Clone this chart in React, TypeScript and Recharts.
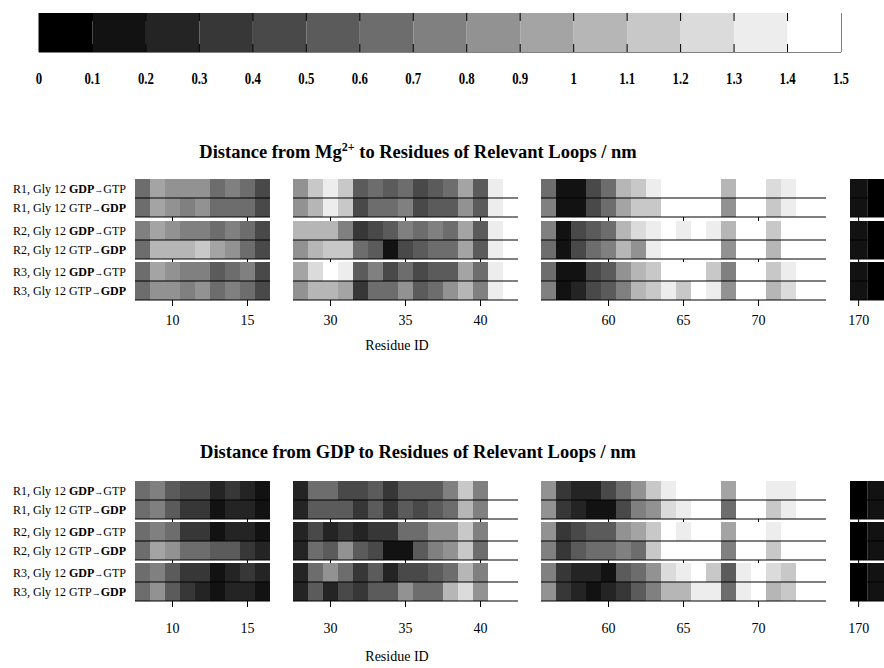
import React from 'react';
import { BarChart, Bar, XAxis, YAxis, Cell, ReferenceLine, ReferenceArea } from 'recharts';

// residues shown in each broken-axis segment
const residuesA = [8, 9, 10, 11, 12, 13, 14, 15, 16];
const residuesB = [28, 29, 30, 31, 32, 33, 34, 35, 36, 37, 38, 39, 40, 41, 42];
const residuesC = [56, 57, 58, 59, 60, 61, 62, 63, 64, 65, 66, 67, 68, 69, 70, 71, 72, 73, 74];
const residuesD = [170, 171];

const ticksA = [10, 15];
const ticksB = [30, 35, 40];
const ticksC = [60, 65, 70];
const ticksD = [170];

const replicas = ['R1', 'R2', 'R3'];

const colorbarTicks = [0, 0.1, 0.2, 0.3, 0.4, 0.5, 0.6, 0.7, 0.8, 0.9, 1, 1.1, 1.2, 1.3, 1.4, 1.5];
const colorbarBins = [0.05, 0.15, 0.25, 0.35, 0.45, 0.55, 0.65, 0.75, 0.85, 0.95, 1.05, 1.15, 1.25, 1.35, 1.45];

// distance from Mg2+ (nm), rows: R1 GDP->GTP, R1 GTP->GDP, R2 ..., R3 ...
const mgA = [
  [0.65, 0.95, 0.85, 0.85, 0.85, 0.65, 0.75, 0.65, 0.45],
  [0.65, 0.95, 0.85, 0.75, 0.85, 0.65, 0.65, 0.65, 0.45],
  [0.75, 0.95, 0.85, 0.75, 0.75, 0.65, 0.75, 0.65, 0.45],
  [0.65, 1.05, 1.05, 1.05, 1.15, 0.95, 0.85, 0.65, 0.45],
  [0.65, 0.95, 0.85, 0.75, 0.75, 0.55, 0.65, 0.75, 0.45],
  [0.65, 0.85, 0.85, 0.75, 0.85, 0.65, 0.75, 0.65, 0.45],
];
const mgB = [
  [0.85, 1.15, 1.35, 1.15, 0.55, 0.65, 0.55, 0.65, 0.45, 0.55, 0.65, 0.95, 0.55, 1.35, 1.45],
  [0.85, 1.05, 1.35, 1.15, 0.45, 0.65, 0.65, 0.75, 0.45, 0.55, 0.55, 0.85, 0.55, 1.35, 1.45],
  [1.05, 1.05, 1.05, 0.75, 0.35, 0.45, 0.55, 0.75, 0.65, 0.75, 0.65, 0.95, 0.55, 1.35, 1.45],
  [0.85, 1.05, 1.15, 1.15, 0.65, 0.55, 0.15, 0.45, 0.55, 0.65, 0.65, 0.95, 0.55, 1.35, 1.45],
  [0.95, 1.25, 1.45, 1.35, 0.55, 0.75, 0.45, 0.65, 0.45, 0.55, 0.55, 0.95, 0.65, 1.35, 1.45],
  [0.85, 1.05, 1.05, 0.95, 0.35, 0.65, 0.65, 0.85, 0.55, 0.65, 0.85, 1.05, 0.75, 1.35, 1.45],
];
const mgC = [
  [0.65, 0.15, 0.15, 0.45, 0.65, 1.05, 1.15, 1.35, 1.45, 1.45, 1.45, 1.45, 1.05, 1.45, 1.45, 1.25, 1.35, 1.45, 1.45],
  [0.75, 0.15, 0.15, 0.45, 0.65, 0.95, 1.15, 1.15, 1.45, 1.45, 1.45, 1.45, 0.85, 1.45, 1.45, 1.15, 1.35, 1.45, 1.45],
  [0.75, 0.15, 0.45, 0.55, 0.65, 1.05, 1.25, 1.35, 1.45, 1.35, 1.45, 1.35, 1.05, 1.45, 1.45, 1.15, 1.45, 1.45, 1.45],
  [0.65, 0.15, 0.45, 0.65, 0.75, 1.05, 0.85, 1.35, 1.45, 1.45, 1.45, 1.45, 0.85, 1.45, 1.45, 1.05, 1.45, 1.45, 1.45],
  [0.65, 0.15, 0.15, 0.45, 0.55, 0.85, 1.05, 1.15, 1.45, 1.45, 1.45, 1.15, 0.75, 1.45, 1.45, 1.15, 1.35, 1.45, 1.45],
  [0.75, 0.15, 0.25, 0.45, 0.55, 0.75, 1.05, 1.15, 1.35, 1.15, 1.45, 1.35, 0.85, 1.45, 1.45, 1.05, 1.25, 1.45, 1.45],
];
const mgD = [
  [0.15, 0.05],
  [0.15, 0.05],
  [0.15, 0.05],
  [0.15, 0.05],
  [0.15, 0.05],
  [0.15, 0.05],
];

// distance from GDP (nm)
const gdpA = [
  [0.65, 0.75, 0.55, 0.45, 0.45, 0.25, 0.35, 0.25, 0.15],
  [0.65, 0.75, 0.55, 0.35, 0.35, 0.15, 0.25, 0.25, 0.15],
  [0.65, 0.75, 0.65, 0.35, 0.35, 0.15, 0.25, 0.25, 0.15],
  [0.65, 0.95, 0.85, 0.65, 0.65, 0.55, 0.55, 0.35, 0.25],
  [0.65, 0.75, 0.55, 0.35, 0.35, 0.15, 0.25, 0.35, 0.25],
  [0.65, 0.85, 0.55, 0.35, 0.25, 0.15, 0.25, 0.25, 0.15],
];
const gdpB = [
  [0.25, 0.65, 0.65, 0.45, 0.45, 0.55, 0.35, 0.55, 0.55, 0.55, 0.75, 1.15, 0.75, 1.45, 1.45],
  [0.25, 0.55, 0.55, 0.55, 0.35, 0.55, 0.35, 0.55, 0.45, 0.55, 0.65, 1.05, 0.75, 1.45, 1.45],
  [0.25, 0.45, 0.25, 0.35, 0.25, 0.35, 0.35, 0.65, 0.65, 0.85, 0.85, 1.15, 0.75, 1.45, 1.45],
  [0.25, 0.65, 0.55, 0.85, 0.55, 0.45, 0.15, 0.15, 0.55, 0.75, 0.85, 1.15, 0.65, 1.45, 1.45],
  [0.25, 0.65, 0.85, 0.65, 0.35, 0.55, 0.25, 0.45, 0.45, 0.55, 0.65, 1.05, 0.75, 1.45, 1.45],
  [0.25, 0.55, 0.25, 0.45, 0.35, 0.55, 0.55, 0.85, 0.65, 0.65, 1.05, 1.25, 0.85, 1.45, 1.45],
];
const gdpC = [
  [0.85, 0.35, 0.25, 0.25, 0.45, 0.65, 0.85, 1.15, 1.35, 1.45, 1.45, 1.45, 0.95, 1.45, 1.45, 1.35, 1.35, 1.45, 1.45],
  [0.85, 0.35, 0.25, 0.15, 0.15, 0.45, 0.75, 0.85, 1.25, 1.35, 1.45, 1.45, 0.65, 1.45, 1.45, 1.15, 1.35, 1.45, 1.45],
  [0.85, 0.35, 0.45, 0.55, 0.55, 0.85, 0.95, 1.15, 1.45, 1.35, 1.45, 1.45, 0.95, 1.45, 1.45, 1.35, 1.45, 1.45, 1.45],
  [0.75, 0.35, 0.55, 0.65, 0.65, 0.75, 0.65, 1.15, 1.45, 1.45, 1.45, 1.45, 0.75, 1.45, 1.45, 1.15, 1.45, 1.45, 1.45],
  [0.75, 0.35, 0.25, 0.25, 0.15, 0.55, 0.65, 0.85, 1.25, 1.35, 1.45, 1.15, 0.55, 1.35, 1.45, 1.25, 1.15, 1.45, 1.45],
  [0.85, 0.35, 0.25, 0.15, 0.25, 0.35, 0.55, 0.75, 1.05, 1.05, 1.35, 1.35, 0.65, 1.35, 1.45, 1.05, 1.15, 1.45, 1.45],
];
const gdpD = [
  [0.05, 0.15],
  [0.05, 0.15],
  [0.05, 0.15],
  [0.05, 0.15],
  [0.05, 0.15],
  [0.05, 0.15],
];

const SERIF = '"Liberation Serif", "Times New Roman", serif';
const GROUP_H = 38;
const AXIS_H = 40;

const shade = (v: number) => {
  const level = Math.min(14, Math.max(0, Math.floor(v * 10 + 1e-6)));
  const g = Math.round((level * 255) / 14);
  return `rgb(${g},${g},${g})`;
};

// each cell is one unit tall; the two rows of a pair are stacked
const lowerSpan = (d: { lower?: number }) => (d.lower != null ? 1 : 0);
const upperSpan = (d: { upper?: number }) => (d.upper != null ? 1 : 0);
const binSpan = (d: { v?: number }) => (d.v != null ? 1 : 0);

// tick={false} drops the tick marks too, so blank labels go through this
const NoLabel = () => <g />;

const segments = [
  { residues: residuesA, ticks: ticksA, x: 135, cell: 15, right: true },
  { residues: residuesB, ticks: ticksB, x: 293, cell: 15, right: true },
  { residues: residuesC, ticks: ticksC, x: 541, cell: 15, right: true },
  { residues: residuesD, ticks: ticksD, x: 849.5, cell: 17.25, right: false },
];

const panels = [
  { key: 'mg', data: [mgA, mgB, mgC, mgD], tops: [179, 221, 262], titleY: 158, labelY: 350, tickGap: 9 },
  { key: 'gdp', data: [gdpA, gdpB, gdpC, gdpD], tops: [481, 522, 563], titleY: 458, labelY: 661, tickGap: 16 },
];

type Seg = (typeof segments)[number];

function GroupChart({ seg, upper, lower, top, showLabels, tickGap }: { seg: Seg; upper: number[]; lower: number[]; top: number; showLabels: boolean; tickGap: number }) {
  const data = seg.residues.map((res, i) => ({ res, upper: upper[i], lower: lower[i] }));
  const n = seg.residues.length;
  const width = n * seg.cell;
  // a hair under the band so recharts keeps the full size (it shrinks bars that fill the band)
  const barSize = seg.cell - 0.01;
  return (
    <div style={{ position: 'absolute', left: seg.x - 1, top }}>
      <BarChart
        width={width + 2}
        height={GROUP_H + AXIS_H}
        data={data}
        margin={{ top: 0, right: 1, bottom: 0, left: 1 }}
        barGap={0}
      >
        <XAxis
          dataKey="res"
          type="number"
          domain={[seg.residues[0] - 0.5, seg.residues[n - 1] + 0.5]}
          ticks={seg.ticks}
          interval={0}
          allowDataOverflow
          height={AXIS_H}
          tickSize={6}
          tickMargin={tickGap}
          stroke="#000"
          tick={showLabels ? { fill: '#000', fontSize: 14, fontFamily: SERIF } : NoLabel}
        />
        <YAxis yAxisId="l" type="number" domain={[0, 2]} width={0} tick={false} tickLine={false} stroke="#000" />
        {seg.right && (
          <YAxis yAxisId="r" orientation="right" type="number" domain={[0, 2]} width={0} tick={false} tickLine={false} stroke="#000" />
        )}
        <Bar yAxisId="l" dataKey={lowerSpan} stackId="pair" barSize={barSize} isAnimationActive={false}>
          {data.map((d, i) => (
            <Cell key={`lo-${i}`} fill={shade(d.lower)} />
          ))}
        </Bar>
        <Bar yAxisId="l" dataKey={upperSpan} stackId="pair" barSize={barSize} isAnimationActive={false}>
          {data.map((d, i) => (
            <Cell key={`up-${i}`} fill={shade(d.upper)} />
          ))}
        </Bar>
        <ReferenceLine yAxisId="l" y={1} stroke="#000" strokeWidth={1} />
      </BarChart>
    </div>
  );
}

const CondensedTick = ({ x, y, payload }: { x?: number; y?: number; payload?: { value: number } }) => (
  <text
    transform={`translate(${x},${y}) scale(0.8,1)`}
    textAnchor="middle"
    dy="0.71em"
    fontSize={16}
    fontWeight="bold"
    fontFamily={SERIF}
    fill="#000"
  >
    {payload?.value}
  </text>
);

function Colorbar() {
  const data = colorbarBins.map((v) => ({ v }));
  const inner = colorbarTicks.slice(1, -1);
  return (
    <div style={{ position: 'absolute', left: 27, top: 13 }}>
      <BarChart width={826} height={82} data={data} margin={{ top: 0, right: 12, bottom: 0, left: 12 }} barGap={0}>
        <XAxis
          dataKey="v"
          type="number"
          domain={[0, 1.5]}
          allowDataOverflow
          ticks={colorbarTicks}
          interval={0}
          height={43}
          axisLine={false}
          tickLine={false}
          tickSize={0}
          tickMargin={21}
          tick={<CondensedTick />}
        />
        <XAxis xAxisId="topIn" dataKey="v" orientation="top" mirror type="number" domain={[0, 1.5]} allowDataOverflow ticks={inner} interval={0} tick={NoLabel} axisLine={false} tickSize={8} stroke="#000" />
        <XAxis xAxisId="botIn" dataKey="v" orientation="bottom" mirror type="number" domain={[0, 1.5]} allowDataOverflow ticks={inner} interval={0} tick={NoLabel} axisLine={false} tickSize={8} stroke="#000" />
        <YAxis hide type="number" domain={[0, 1]} />
        <Bar dataKey={binSpan} barSize={802 / 15 - 0.01} isAnimationActive={false}>
          {data.map((d, i) => (
            <Cell key={`cb-${i}`} fill={shade(d.v)} />
          ))}
        </Bar>
        <ReferenceArea x1={0} x2={1.5} y1={0} y2={1} fill="none" fillOpacity={0} stroke="#000" strokeWidth={1} />
      </BarChart>
    </div>
  );
}

function RowLabel({ y, replica, firstBold }: { y: number; replica: string; firstBold: boolean }) {
  return (
    <text x={126} y={y} textAnchor="end" fontFamily={SERIF} fontSize={12} fill="#000">
      {`${replica}, Gly 12 `}
      <tspan fontWeight={firstBold ? 'bold' : 'normal'}>{firstBold ? 'GDP' : 'GTP'}</tspan>
      <tspan fontSize={9}>{'\u2192'}</tspan>
      <tspan fontWeight={firstBold ? 'normal' : 'bold'}>{firstBold ? 'GTP' : 'GDP'}</tspan>
    </text>
  );
}

export default function App() {
  return (
    <div style={{ position: 'absolute', left: 0, top: 0, width: 884, height: 668, background: '#fff', overflow: 'hidden' }}>
      <Colorbar />
      {panels.map((p) =>
        segments.map((seg, s) =>
          p.tops.map((top, g) => (
            <GroupChart
              key={`${p.key}-${s}-${g}`}
              seg={seg}
              upper={p.data[s][g * 2]}
              lower={p.data[s][g * 2 + 1]}
              top={top}
              showLabels={g === p.tops.length - 1}
              tickGap={p.tickGap}
            />
          ))
        )
      )}
      <svg width={884} height={668} style={{ position: 'absolute', left: 0, top: 0, pointerEvents: 'none' }}>
        <text x={418} y={panels[0].titleY} textAnchor="middle" fontFamily={SERIF} fontSize={18.5} fontWeight="bold" fill="#000">
          Distance from Mg
          <tspan fontSize={12} dy={-7}>2+</tspan>
          <tspan dy={7}> to Residues of Relevant Loops / nm</tspan>
        </text>
        <text x={418} y={panels[1].titleY} textAnchor="middle" fontFamily={SERIF} fontSize={18.5} fontWeight="bold" fill="#000">
          Distance from GDP to Residues of Relevant Loops / nm
        </text>
        {panels.map((p) =>
          p.tops.map((top, g) => (
            <g key={`lab-${p.key}-${g}`}>
              <RowLabel y={top + 13.5} replica={replicas[g]} firstBold />
              <RowLabel y={top + 32.5} replica={replicas[g]} firstBold={false} />
            </g>
          ))
        )}
        {panels.map((p) => (
          <text key={`rid-${p.key}`} x={397} y={p.labelY} textAnchor="middle" fontFamily={SERIF} fontSize={14} fill="#000">
            Residue ID
          </text>
        ))}
      </svg>
    </div>
  );
}
